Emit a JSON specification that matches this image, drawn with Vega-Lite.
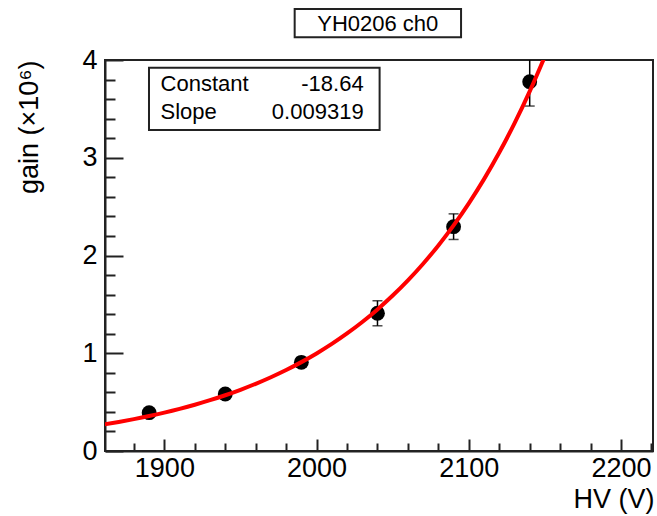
{
  "$schema": "https://vega.github.io/schema/vega-lite/v6.json",
  "width": 548,
  "height": 391,
  "autosize": "none",
  "padding": {"left": 105, "top": 60, "right": 4, "bottom": 65},
  "background": "white",
  "config": {
    "font": "Liberation Sans",
    "view": {"stroke": "#222", "strokeWidth": 2},
    "axis": {
      "domainColor": "#222",
      "domainWidth": 2,
      "tickColor": "#222",
      "tickWidth": 2,
      "labelFont": "Liberation Sans",
      "labelFontSize": 27,
      "labelColor": "black",
      "titleFont": "Liberation Sans",
      "titleFontSize": 27,
      "titleFontWeight": "normal",
      "titleColor": "black",
      "grid": false,
      "labelOverlap": false,
      "labelBound": false,
      "labelFlush": false
    }
  },
  "datasets": {
    "points": [
      {"hv": 1890, "gain": 0.392, "err": 0.03},
      {"hv": 1940, "gain": 0.583, "err": 0.035},
      {"hv": 1990, "gain": 0.907, "err": 0.05},
      {"hv": 2040, "gain": 1.409, "err": 0.128},
      {"hv": 2090, "gain": 2.295, "err": 0.131},
      {"hv": 2140, "gain": 3.778, "err": 0.249}
    ],
    "fit": [
      {"hv": 1860, "gain": 0.2707},
      {"hv": 1870, "gain": 0.2972},
      {"hv": 1880, "gain": 0.3262},
      {"hv": 1890, "gain": 0.3580},
      {"hv": 1900, "gain": 0.3930},
      {"hv": 1910, "gain": 0.4314},
      {"hv": 1920, "gain": 0.4735},
      {"hv": 1930, "gain": 0.5198},
      {"hv": 1940, "gain": 0.5705},
      {"hv": 1950, "gain": 0.6263},
      {"hv": 1960, "gain": 0.6874},
      {"hv": 1970, "gain": 0.7546},
      {"hv": 1980, "gain": 0.8283},
      {"hv": 1990, "gain": 0.9092},
      {"hv": 2000, "gain": 0.9980},
      {"hv": 2010, "gain": 1.0954},
      {"hv": 2020, "gain": 1.2024},
      {"hv": 2030, "gain": 1.3198},
      {"hv": 2040, "gain": 1.4487},
      {"hv": 2050, "gain": 1.5902},
      {"hv": 2060, "gain": 1.7456},
      {"hv": 2070, "gain": 1.9160},
      {"hv": 2080, "gain": 2.1032},
      {"hv": 2090, "gain": 2.3086},
      {"hv": 2100, "gain": 2.5340},
      {"hv": 2110, "gain": 2.7815},
      {"hv": 2120, "gain": 3.0532},
      {"hv": 2130, "gain": 3.3514},
      {"hv": 2140, "gain": 3.6787},
      {"hv": 2150, "gain": 4.0380}
    ]
  },
  "layer": [
    {
      "data": {"name": "points"},
      "mark": {"type": "errorbar", "ticks": {"size": 10, "thickness": 1.5, "color": "black"}, "thickness": 1.5, "color": "black", "clip": true},
      "encoding": {
        "x": {
          "field": "hv",
          "type": "quantitative",
          "scale": {"domain": [1861, 2221], "nice": false, "zero": false},
          "axis": {
            "title": "HV (V)",
            "titleAnchor": "end",
            "titleAlign": "right",
            "titleBaseline": "alphabetic",
            "titleX": 549,
            "titleY": 56,
            "tickCount": 100,
            "values": [1880, 1900, 1920, 1940, 1960, 1980, 2000, 2020, 2040, 2060, 2080, 2100, 2120, 2140, 2160, 2180, 2200, 2220],
            "labelExpr": "datum.value % 100 === 0 ? format(datum.value, 'd') : ''",
            "tickSize": {"condition": {"test": "datum.value % 100 === 0", "value": -12}, "value": -8},
            "labelBaseline": "alphabetic",
            "labelPadding": 37
          }
        },
        "y": {
          "field": "gain",
          "type": "quantitative",
          "scale": {"domain": [0, 4], "nice": false, "zero": false},
          "axis": {
            "title": "gain (×10⁶)",
            "titleAnchor": "end",
            "titleAlign": "right",
            "titleAngle": -90,
            "titleBaseline": "alphabetic",
            "titleX": -68,
            "titleY": 0,
            "tickCount": 100,
            "values": [0, 0.2, 0.4, 0.6, 0.8, 1, 1.2, 1.4, 1.6, 1.8, 2, 2.2, 2.4, 2.6, 2.8, 3, 3.2, 3.4, 3.6, 3.8, 4],
            "labelExpr": "datum.value % 1 === 0 ? format(datum.value, 'd') : ''",
            "tickSize": {"condition": {"test": "datum.value % 1 === 0", "value": -18}, "value": -10},
            "labelPadding": 26
          }
        },
        "yError": {"field": "err"}
      }
    },
    {
      "data": {"name": "points"},
      "mark": {"type": "circle", "size": 220, "color": "black", "opacity": 1, "clip": true},
      "encoding": {
        "x": {"field": "hv", "type": "quantitative"},
        "y": {"field": "gain", "type": "quantitative"}
      }
    },
    {
      "data": {"name": "fit"},
      "mark": {"type": "line", "color": "#ff0000", "strokeWidth": 4, "clip": true, "interpolate": "monotone"},
      "encoding": {
        "x": {"field": "hv", "type": "quantitative"},
        "y": {"field": "gain", "type": "quantitative"}
      }
    },
    {
      "data": {"values": [{}]},
      "mark": {"type": "rect", "fill": "white", "stroke": "#222", "strokeWidth": 2},
      "encoding": {
        "x": {"datum": 1889.9, "type": "quantitative"},
        "x2": {"datum": 2041.4},
        "y": {"datum": 3.921, "type": "quantitative"},
        "y2": {"datum": 3.284}
      }
    },
    {
      "data": {"values": [{}]},
      "mark": {"type": "rect", "fill": "white", "stroke": "#222", "strokeWidth": 2, "clip": false},
      "encoding": {
        "x": {"datum": 1985.6, "type": "quantitative"},
        "x2": {"datum": 2094.9},
        "y": {"datum": 4.522, "type": "quantitative"},
        "y2": {"datum": 4.232}
      }
    },
    {
      "data": {"values": [{"t": "YH0206 ch0"}]},
      "mark": {"type": "text", "align": "center", "baseline": "middle", "fontSize": 22, "color": "black", "clip": false},
      "encoding": {
        "x": {"datum": 2040.2, "type": "quantitative"},
        "y": {"datum": 4.366, "type": "quantitative"},
        "text": {"field": "t"}
      }
    },
    {
      "data": {"values": [{"t": "Constant"}]},
      "mark": {"type": "text", "align": "left", "baseline": "middle", "fontSize": 22, "color": "black"},
      "encoding": {
        "x": {"datum": 1897.5, "type": "quantitative"},
        "y": {"datum": 3.754, "type": "quantitative"},
        "text": {"field": "t"}
      }
    },
    {
      "data": {"values": [{"t": "Slope"}]},
      "mark": {"type": "text", "align": "left", "baseline": "middle", "fontSize": 22, "color": "black"},
      "encoding": {
        "x": {"datum": 1897.5, "type": "quantitative"},
        "y": {"datum": 3.471, "type": "quantitative"},
        "text": {"field": "t"}
      }
    },
    {
      "data": {"values": [{"t": "-18.64"}]},
      "mark": {"type": "text", "align": "right", "baseline": "middle", "fontSize": 22, "color": "black"},
      "encoding": {
        "x": {"datum": 2030.9, "type": "quantitative"},
        "y": {"datum": 3.754, "type": "quantitative"},
        "text": {"field": "t"}
      }
    },
    {
      "data": {"values": [{"t": "0.009319"}]},
      "mark": {"type": "text", "align": "right", "baseline": "middle", "fontSize": 22, "color": "black"},
      "encoding": {
        "x": {"datum": 2030.9, "type": "quantitative"},
        "y": {"datum": 3.471, "type": "quantitative"},
        "text": {"field": "t"}
      }
    }
  ]
}
